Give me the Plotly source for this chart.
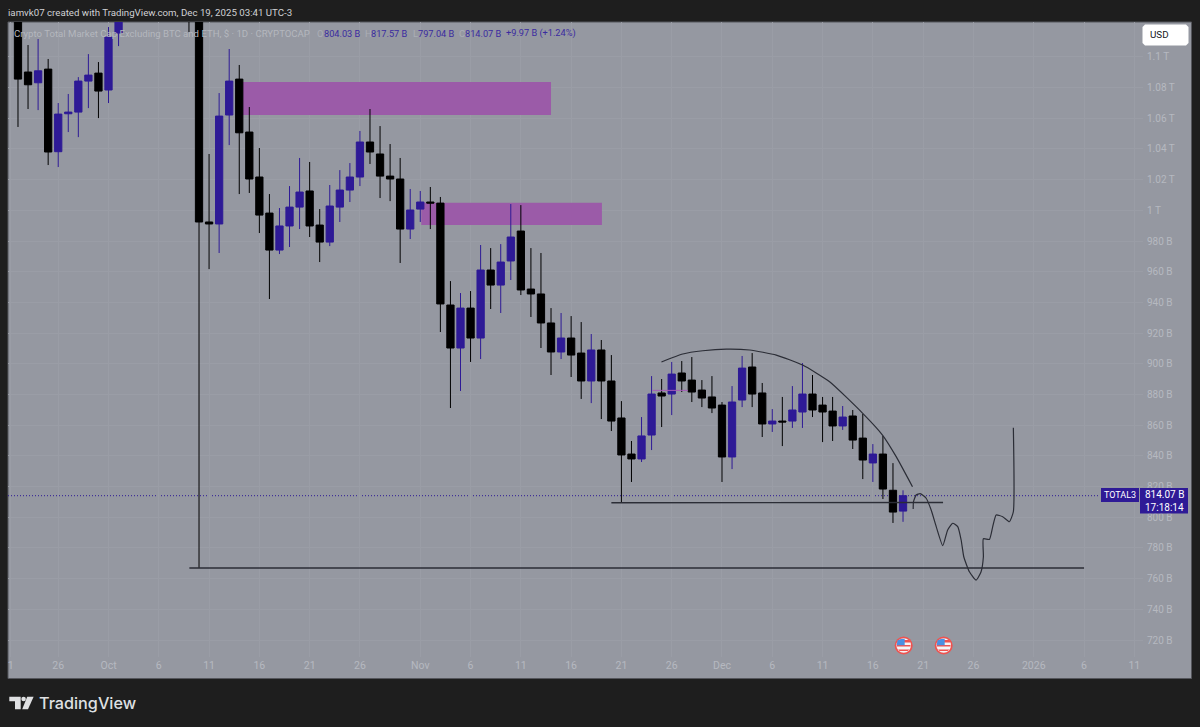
import datetime as dt
import plotly.graph_objects as go

# ---- candles ----
first_day = "2025-09-22"
opens = [1135,1090.1,1083.1,1092,1038.2,1062.9,1064,1084.2,1089.4,1078.4,1115.5,
 1130,1145,1140,1150,1165,1135,1150,1130,
 992.4,991.1,1062.1,1085.5,1051,1021.7,998.2,974.1,989.8,1002.1,1012.6,990.4,979.3,1002.1,1013.2,1021.7,1044.5,1036.7,1022.3,1020.4,987.8,
 1000.8,1005.4,1004.7,938.3,910.3,936.3,916.8,961.1,951.3,967,986.5,948.7,945.5,926.6,907.7,916.8,907,888.8,909,888.8,864.7,841.2,838,853.6,881,880.3,894,889.4,882.9,878.4,
 873.1,839.3,876.4,897.9,881,860.8,862.7,862.7,868.6,880.3,873.1,869.2,859.5,866,851.6,835.4,841.2,817.6,804.03]
highs = [1140,1107.7,1111.6,1098.6,1069.9,1075.8,1086.8,1101.8,1096.6,1119.4,1128,
 1150,1155,1160,1175,1170,1155,1155,1135,
 1036.7,1076.4,1105.1,1094.7,1067.3,1040.6,1010.6,1001.5,1015.8,1034.1,1031.5,1000.8,1016.5,1026.2,1030.8,1051.7,1066,1054.9,1043.2,1034.1,1013.9,
 1012.6,1015.2,1008.7,953.9,946.1,947.4,977.4,975.4,978,1004.1,1003.4,975.4,972.2,936.3,933.1,931.1,927.2,919.4,915.5,905.7,875.7,849.7,865.3,892,890.1,901.2,901.8,904.4,889.4,892,
 875.1,885.5,905.1,907,887.5,870.5,878.4,885.5,900.5,892.7,878.4,878.4,872.5,869.9,867.3,847.7,853,835.3,817.57]
lows = [1054.3,1066,1065.3,1029.5,1028.2,1051,1047.7,1066.6,1060.1,1069.9,1107,
 1125,1135,1130,1140,1130,1128,1116.1,767,
 961.7,972.2,1042.5,1010.6,1011.3,985.2,942.2,971.5,976.1,987.8,982.6,966.3,976.7,992.4,1005.4,1015.8,1030.2,1008,1006,965.7,981.3,
 992.4,987.8,920.7,871.2,882.3,901.2,903.1,935.7,933.1,954.6,944.8,930.5,910.3,892.7,903.1,891.4,877.1,874.4,864,856.2,809.3,823,836,843.8,858.8,866.6,881.6,875.1,871.8,867.9,
 823,831.4,871.8,871.8,852.3,855.6,846.4,858.2,858.2,865.3,849,849.7,856.9,844.5,824.9,823,811.9,796.3,797.04]
closes = [1085.5,1081.8,1090.9,1038,1062.7,1064,1084.2,1088.1,1077.7,1112.9,1126,
 1145,1140,1150,1165,1135,1150,1130,992.4,
 991.1,1061.4,1084.2,1050.5,1020.4,996.9,974.1,989.8,1002.1,1011.9,989.8,979.3,1002.8,1013.2,1021.7,1044.5,1038,1022.3,1020.4,987.8,1000.2,
 1005.4,1004.7,939,910.3,936.3,916.8,961.1,951.3,966.3,982.6,948.1,945.5,926.6,907.7,916.8,905.7,888.8,909,888.8,862.7,840.6,838,853,880.3,879,893.3,888.8,881.6,877.7,871.2,
 839.3,875.1,897.2,880.3,860.8,862.7,862.1,869.9,880.3,869.9,868.6,859.5,865.3,850.3,837.3,841.2,818.4,803.4,814.07]

# ---- hand drawings on the chart (days after 1 Oct 2025, chart values) ----
arc_days = [54.98,57.1,59.09,61.44,63.75,66.4,69.02,71.7,74.97,76.96,78.32,79.94]
arc_values = [901.2,906.4,908.5,909.6,909,905.7,899.2,888.3,867.9,853.6,839.5,819.9]
wave_days = [80.01,80.04,80.3,80.7,81.3,81.8,82.3,82.95,83.44,83.94,84.44,84.78,85.04,85.6,86.27,86.76,86.99,86.99,87.59,87.92,88.26,88.91,89.57,89.97,89.97]
wave_values = [805.4,810.1,814.5,815.4,812.4,804.7,793.9,781.5,791.7,796.1,793.9,785.2,774.3,764.5,759.1,764.5,774.3,786,785.6,793.9,801.5,800.4,797.1,803.6,858.4]
support_days = [50.0,82.98]
support_values = [809.5,809.6]
floor_days = [8.04,97.0]
floor_values = [767,767]
mark_days = [54.1,57.6]
mark_values = [882.7,882.7]
zone_days = [[13.3,44.0],[31.1,49.06]]
zone_values = [[1083.6,1062.1],[1005,990.4]]
last_price = 814.07

y_ticks = [720,740,760,780,800,820,840,860,880,900,920,940,960,980,1000,1020,1040,1060,1080,1100]
y_text = ["720 B","740 B","760 B","780 B","800 B","820 B","840 B","860 B","880 B","900 B","920 B","940 B","960 B","980 B","1 T","1.02 T","1.04 T","1.06 T","1.08 T","1.1 T"]
x_ticks = ["2025-09-21 06:30","2025-09-26","2025-10-01","2025-10-06","2025-10-11","2025-10-16","2025-10-21","2025-10-26","2025-11-01","2025-11-06","2025-11-11","2025-11-16","2025-11-21","2025-11-26","2025-12-01","2025-12-06","2025-12-11","2025-12-16","2025-12-21","2025-12-26","2026-01-01","2026-01-06","2026-01-11"]
x_text = ["1","26","Oct","6","11","16","21","26","Nov","6","11","16","21","26","Dec","6","11","16","21","26","2026","6","11"]

BG = "#9598a1"
DARK = "#1e1e1e"
UP = "#2e1a96"
DOWN = "#000000"
INK = "#2b2d36"
AXIS_TXT = "#b6b9c0"
GRID = "#9a9da6"
FONT = "Roboto"

base = dt.datetime(2025, 10, 1)
def when(d):
    return base + dt.timedelta(days=d)
def whens(ds):
    return [when(d) for d in ds]

start = dt.datetime.fromisoformat(first_day)
dates = [start + dt.timedelta(days=i) for i in range(len(opens))]

# page pixels to paper fractions
PL, PR, PT, PB = 8, 1143, 22, 657
def px(x):
    return (x - PL) / (PR - PL)
def py(y):
    return (PB - y) / (PB - PT)

fig = go.Figure()
fig.add_trace(go.Candlestick(
    x=dates, open=opens, high=highs, low=lows, close=closes,
    whiskerwidth=0,
    increasing=dict(line=dict(color=UP, width=1), fillcolor=UP),
    decreasing=dict(line=dict(color=DOWN, width=1), fillcolor=DOWN),
    hoverinfo="skip", showlegend=False,
))
def draw(ds, vs, color=INK, width=1.3, spline=False):
    line = dict(color=color, width=width)
    if spline:
        line.update(shape="spline", smoothing=0.5)
    fig.add_trace(go.Scatter(x=whens(ds), y=vs, mode="lines", line=line,
                             hoverinfo="skip", showlegend=False))
draw(arc_days, arc_values, width=1.2, spline=True)
draw(wave_days, wave_values, width=1.2, spline=True)
draw(support_days, support_values, width=1.4)
draw(floor_days, floor_values, width=1.4)
draw(mark_days, mark_values, color="#a65cb8", width=1)

shapes = []
def box(x0, y0, x1, y1, fill, layer="above", line=None):
    shapes.append(dict(type="rect", xref="paper", yref="paper", x0=px(x0), x1=px(x1),
                       y0=py(y0), y1=py(y1), fillcolor=fill, layer=layer,
                       line=dict(width=1 if line else 0, color=line or fill)))
def path(pts, fill, layer="above"):
    d = "M" + " L".join(f"{px(a):.5f},{py(b):.5f}" for a, b in pts) + " Z"
    shapes.append(dict(type="path", xref="paper", yref="paper", path=d, fillcolor=fill,
                       layer=layer, line=dict(width=0)))
def disc(cx, cy, r, fill):
    shapes.append(dict(type="circle", xref="paper", yref="paper", x0=px(cx - r), x1=px(cx + r),
                       y0=py(cy + r), y1=py(cy - r), fillcolor=fill, line=dict(width=0), layer="above"))

# outer panel
box(8, 22, 1191.5, 678.5, BG, layer="below", line="#55565c")
# supply zones, between the grid and the candles
for (d0, d1), (v0, v1) in zip(zone_days, zone_values):
    shapes.append(dict(type="rect", xref="x", yref="y", x0=when(d0), x1=when(d1), y0=v0, y1=v1,
                       fillcolor="#9b5ba8", line=dict(width=0), layer="between"))
# last price dotted line
shapes.append(dict(type="line", xref="paper", yref="y", x0=0, x1=px(1100), y0=last_price, y1=last_price,
                   line=dict(color=UP, width=1, dash="1px,2px"), layer="between"))
# price tags
box(1101, 488, 1139, 502, UP)
box(1140, 488, 1188, 513.5, UP)
# USD button with clipped corners
path([(1145, 24.5), (1186, 24.5), (1188.5, 27), (1188.5, 43), (1186, 45.5), (1145, 45.5), (1142.5, 43), (1142.5, 27)], "#ffffff")
# event flags
for cx in (903.7, 943.7):
    cy = 645.5
    disc(cx, cy, 9, "#ef5350")
    disc(cx, cy, 7.3, "#f4f4f6")
    path([(cx - 6, cy - 5.5), (cx + 6, cy - 5.5), (cx + 6.6, cy - 3), (cx - 6.6, cy - 3)], "#ef5350")
    path([(cx - 6.8, cy - 0.5), (cx + 6.8, cy - 0.5), (cx + 6.8, cy + 1), (cx - 6.8, cy + 1)], "#ef5350")
    path([(cx - 5.6, cy + 4), (cx + 5.6, cy + 4), (cx + 4.2, cy + 5.5), (cx - 4.2, cy + 5.5)], "#ef5350")
    path([(cx - 6.2, cy - 5), (cx - 3, cy - 6.4), (cx + 1, cy - 6.8), (cx + 1, cy - 0.2), (cx - 7, cy - 0.2)], "#4a90e2")
# TradingView logo
path([(9.3, 696.7), (20.7, 696.7), (20.7, 709.3), (15, 709.3), (15, 701.3), (9.3, 701.3)], "#dfe0e2")
disc(23.6, 699, 2.3, "#dfe0e2")
path([(27.2, 696.7), (33.6, 696.7), (28.0, 709.3), (22.2, 709.3)], "#dfe0e2")

def note(x, y, text, color, size, anchor="left", family=FONT, weight=None):
    f = dict(color=color, size=size, family=family)
    if weight:
        f["weight"] = weight
    return dict(xref="paper", yref="paper", x=px(x), y=py(y), text=text, showarrow=False,
                xanchor=anchor, yanchor="middle", font=f, borderpad=0, borderwidth=0)

PRICE = "#3a2ba0"
annotations = [
    note(8, 12, "iamvk07 created with TradingView.com, Dec 19, 2025 03:41 UTC-3", "#d0d1d4", 9.7),
    note(14, 33, "Crypto Total Market Cap Excluding BTC and ETH, $ · 1D · CRYPTOCAP", "#b4b7be", 9.6),
    note(317, 33, "O", "#abaeb6", 9.4), note(323.5, 33, "804.03 B", PRICE, 9.2),
    note(364.5, 33, "H", "#abaeb6", 9.4), note(371, 33, "817.57 B", PRICE, 9.2),
    note(413, 33, "L", "#abaeb6", 9.4), note(418, 33, "797.04 B", PRICE, 9.2),
    note(459, 33, "C", "#abaeb6", 9.4), note(465, 33, "814.07 B", PRICE, 9.2),
    note(506, 33, "+9.97 B (+1.24%)", PRICE, 9.2),
    note(1150, 35, "USD", "#131722", 9.8),
    note(1120, 495, "TOTAL3", "#ffffff", 9, "center"),
    note(1164, 495, "814.07 B", "#ffffff", 10, "center"),
    note(1164, 507, "17:18:14", "#ffffff", 10, "center"),
    note(38.5, 703, "TradingView", "#dfe0e2", 16.2, "left", family="Inter", weight=500),
]

fig.update_layout(
    width=1200, height=727,
    margin=dict(l=8, r=57, t=22, b=70, pad=0),
    paper_bgcolor=DARK, plot_bgcolor=BG,
    showlegend=False, shapes=shapes, annotations=annotations,
    font=dict(family=FONT),
    boxgap=0.15, boxgroupgap=0.15,
    xaxis=dict(
        type="date", range=["2025-09-21 00:10", "2026-01-11 20:40"],
        rangeslider=dict(visible=False), tickmode="array", tickvals=x_ticks, ticktext=x_text,
        showgrid=True, gridcolor=GRID, gridwidth=1, zeroline=False, showline=False, ticks="",
        tickangle=0, tickfont=dict(color=AXIS_TXT, size=10.5, family=FONT), fixedrange=True,
    ),
    yaxis=dict(
        range=[708.97, 1122.7], side="right", tickmode="array", tickvals=y_ticks, ticktext=y_text,
        showgrid=True, gridcolor=GRID, gridwidth=1, zeroline=False, showline=False, ticks="",
        ticklabelstandoff=3,
        tickfont=dict(color=AXIS_TXT, size=10, family=FONT), fixedrange=True,
    ),
)
fig.write_html("out.html", post_script="document.body.style.margin='0';", config=dict(displayModeBar=False))
